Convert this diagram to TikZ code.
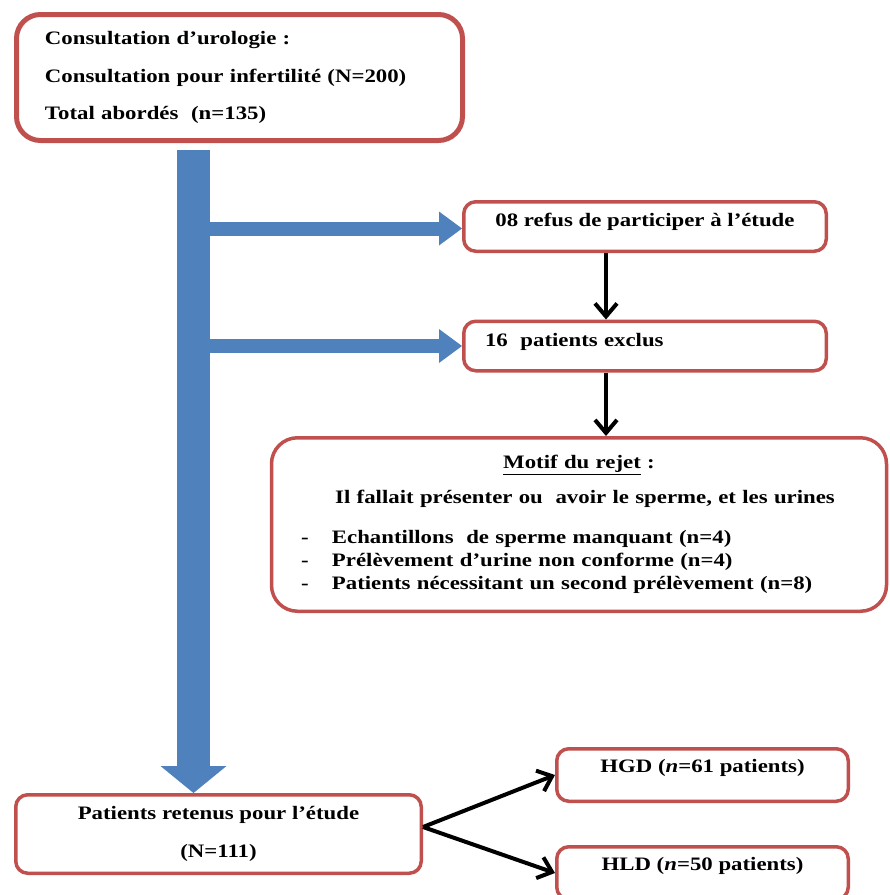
\documentclass[tikz,border=0pt]{standalone}
\usepackage{fontspec}
\setmainfont{Liberation Serif}[FakeStretch=1.2]
\usetikzlibrary{positioning}
\usetikzlibrary{calc}
\usetikzlibrary{arrows.meta}
\definecolor{boxred}{RGB}{192,80,77}
\definecolor{boxblue}{RGB}{79,129,189}
\tikzset{
  boite/.style={draw=boxred, line width=3.5pt, rounded corners=12pt, fill=white, font=\bfseries\fontsize{19}{23}\selectfont},
  haut/.style={text height=12pt, text depth=12pt},
  tronc/.style={draw=boxblue, line width=33pt, -{Triangle[length=27pt,width=66pt,line width=0pt]}},
  branche/.style={draw=boxblue, line width=14pt, -{Triangle[length=23pt,width=34pt,line width=0pt]}},
  noire/.style={line width=4pt, -{Straight Barb[length=13pt,width=22pt]}}
}

\begin{document}
\begin{tikzpicture}[x=1pt,y=-1pt]
        \useasboundingbox (0,0) rectangle (890,895);

        % nodes %
        \node[boite, line width=5pt, rounded corners=24pt, minimum width=446pt, minimum height=126pt, text width=389pt, inner xsep=28.5pt, align=left, font=\bfseries\fontsize{19}{37.5}\selectfont] (consult) at (239.5,77.5) {Consultation d’urologie :\\ Consultation pour infertilité (N=200)\\ Total abordés\ \ (n=135)};
        \node[boite, haut, minimum width=362.5pt, minimum height=49.5pt] (refus) at (645,226.5) {08 refus de participer à l’étude};
        \node[boite, haut, minimum width=362.5pt, minimum height=49.5pt, text width=320pt, inner xsep=21pt, align=left] (exclus) at (645,346) {16\ \ patients exclus};
        \node[boite, rounded corners=26pt, minimum width=614.5pt, minimum height=173.5pt, text width=556pt, inner xsep=29.5pt, align=left] (motif) at (579,524.5) {\makebox[556pt]{\underline{Motif du rejet} :}\\[12pt]
          \makebox[556pt]{\hspace{12pt}Il fallait présenter ou\ \ avoir le sperme, et les urines}\\[17pt]
          \makebox[31pt][l]{-}Echantillons\ \ de sperme manquant (n=4)\\
          \makebox[31pt][l]{-}Prélèvement d’urine non conforme (n=4)\\
          \makebox[31pt][l]{-}Patients nécessitant un second prélèvement (n=8)};
        \node[boite, minimum width=405.5pt, minimum height=78.5pt, align=center, font=\bfseries\fontsize{19}{38}\selectfont] (retenus) at (218.5,834) {Patients retenus pour l’étude\\ (N=111)};
        \node[boite, text height=12pt, text depth=18pt, minimum width=291.5pt, minimum height=52.5pt] (hgd) at (702.5,775) {HGD (\textit{n}=61 patients)};
        \node[boite, text height=12pt, text depth=18pt, minimum width=291.5pt, minimum height=52.5pt] (hld) at (702.5,873) {HLD (\textit{n}=50 patients)};
        \coordinate (depart) at (193.5,150);

        % edges %
        \draw[tronc] (depart) -- (depart |- retenus.north);
        \draw[branche] ([xshift=16pt,yshift=-2pt]depart |- refus.west) -- ([yshift=-2pt]refus.west);
        \draw[branche] ([xshift=16pt]depart |- exclus.west) -- (exclus.west);
        \draw[noire] ([xshift=-39pt]refus.south) -- ([xshift=-39pt]exclus.north);
        \draw[noire] ([xshift=-39pt]exclus.south) -- ([xshift=-39pt]exclus.south |- motif.north);
        \draw[noire] ([yshift=7pt]retenus.east) -- (hgd.west);
        \draw[noire] ([yshift=7pt]retenus.east) -- (hld.west);
\end{tikzpicture}
\end{document}
